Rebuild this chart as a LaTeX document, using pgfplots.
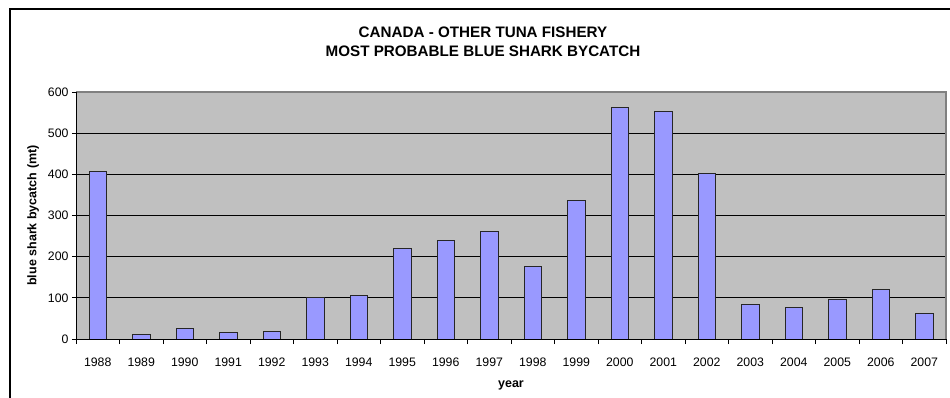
\documentclass[border=0pt]{standalone}
\usepackage{fontspec}
\setmainfont{Liberation Sans}
\usepackage{pgfplots}
\pgfplotsset{compat=1.18}
\definecolor{plotbg}{RGB}{192,192,192}
\definecolor{barfill}{RGB}{153,153,255}
\definecolor{framegray}{RGB}{128,128,128}
\begin{document}
\begin{tikzpicture}
\begin{axis}[
  at={(76bp,59bp)}, anchor=south west,
  scale only axis, width=870bp, height=247bp,
  xmin=-0.5, xmax=19.5, ymin=0, ymax=600,
  clip=false,
  axis line style={draw=none},
  axis background/.style={fill=plotbg},
  ybar, bar width=17.5bp,
  xtick={0,...,19},
  xticklabels={1988,1989,1990,1991,1992,1993,1994,1995,1996,1997,1998,1999,2000,2001,2002,2003,2004,2005,2006,2007},
  minor xtick={-0.5,0.5,...,19.5},
  major x tick style={draw=none},
  minor x tick style={black, line width=0.9bp},
  minor tick length=5bp,
  ytick={0,100,...,600},
  major y tick style={black, line width=0.9bp},
  major tick length=4bp,
  tick align=outside,
  xtick pos=bottom, ytick pos=left,
  ymajorgrids, major grid style={black, line width=0.8bp},
  tick label style={font=\fontsize{12.3bp}{14bp}\selectfont},
  /pgf/number format/assume math mode=true,
  xticklabel style={yshift=-11bp},
  xlabel={\textbf{year}},
  ylabel={\textbf{blue shark bycatch (mt)}},
  label style={font=\fontsize{12.5bp}{15bp}\selectfont},
  every axis x label/.append style={at={(axis description cs:0.5,-0.188)}, anchor=center},
  every axis y label/.append style={at={(axis description cs:-0.0494,0.5)}, anchor=center},
]
\addplot[fill=barfill, draw=black!85, line width=1bp] coordinates {
  (0,406) (1,12) (2,26) (3,16) (4,19) (5,100) (6,106) (7,220) (8,239) (9,262)
  (10,175) (11,336) (12,563) (13,552) (14,401) (15,83) (16,77) (17,97) (18,120) (19,61)
};
\draw[framegray, line width=1.2bp] (rel axis cs:0,1) -- (rel axis cs:1,1) -- (rel axis cs:1,0);
\draw[black, line width=0.9bp] (rel axis cs:0,1) -- (rel axis cs:0,0) -- (rel axis cs:1,0);
\end{axis}
\node[font=\bfseries\fontsize{15.2bp}{17bp}\selectfont] at (483bp,365.7bp) {CANADA - OTHER TUNA FISHERY};
\node[font=\bfseries\fontsize{15.2bp}{17bp}\selectfont] at (483bp,347bp) {MOST PROBABLE BLUE SHARK BYCATCH};
\draw[black, line width=2bp] (10bp,-20bp) -- (10bp,389bp) -- (970bp,389bp);
\pgfresetboundingbox
\path (0,0) rectangle (950bp,398bp);
\end{tikzpicture}
\end{document}
